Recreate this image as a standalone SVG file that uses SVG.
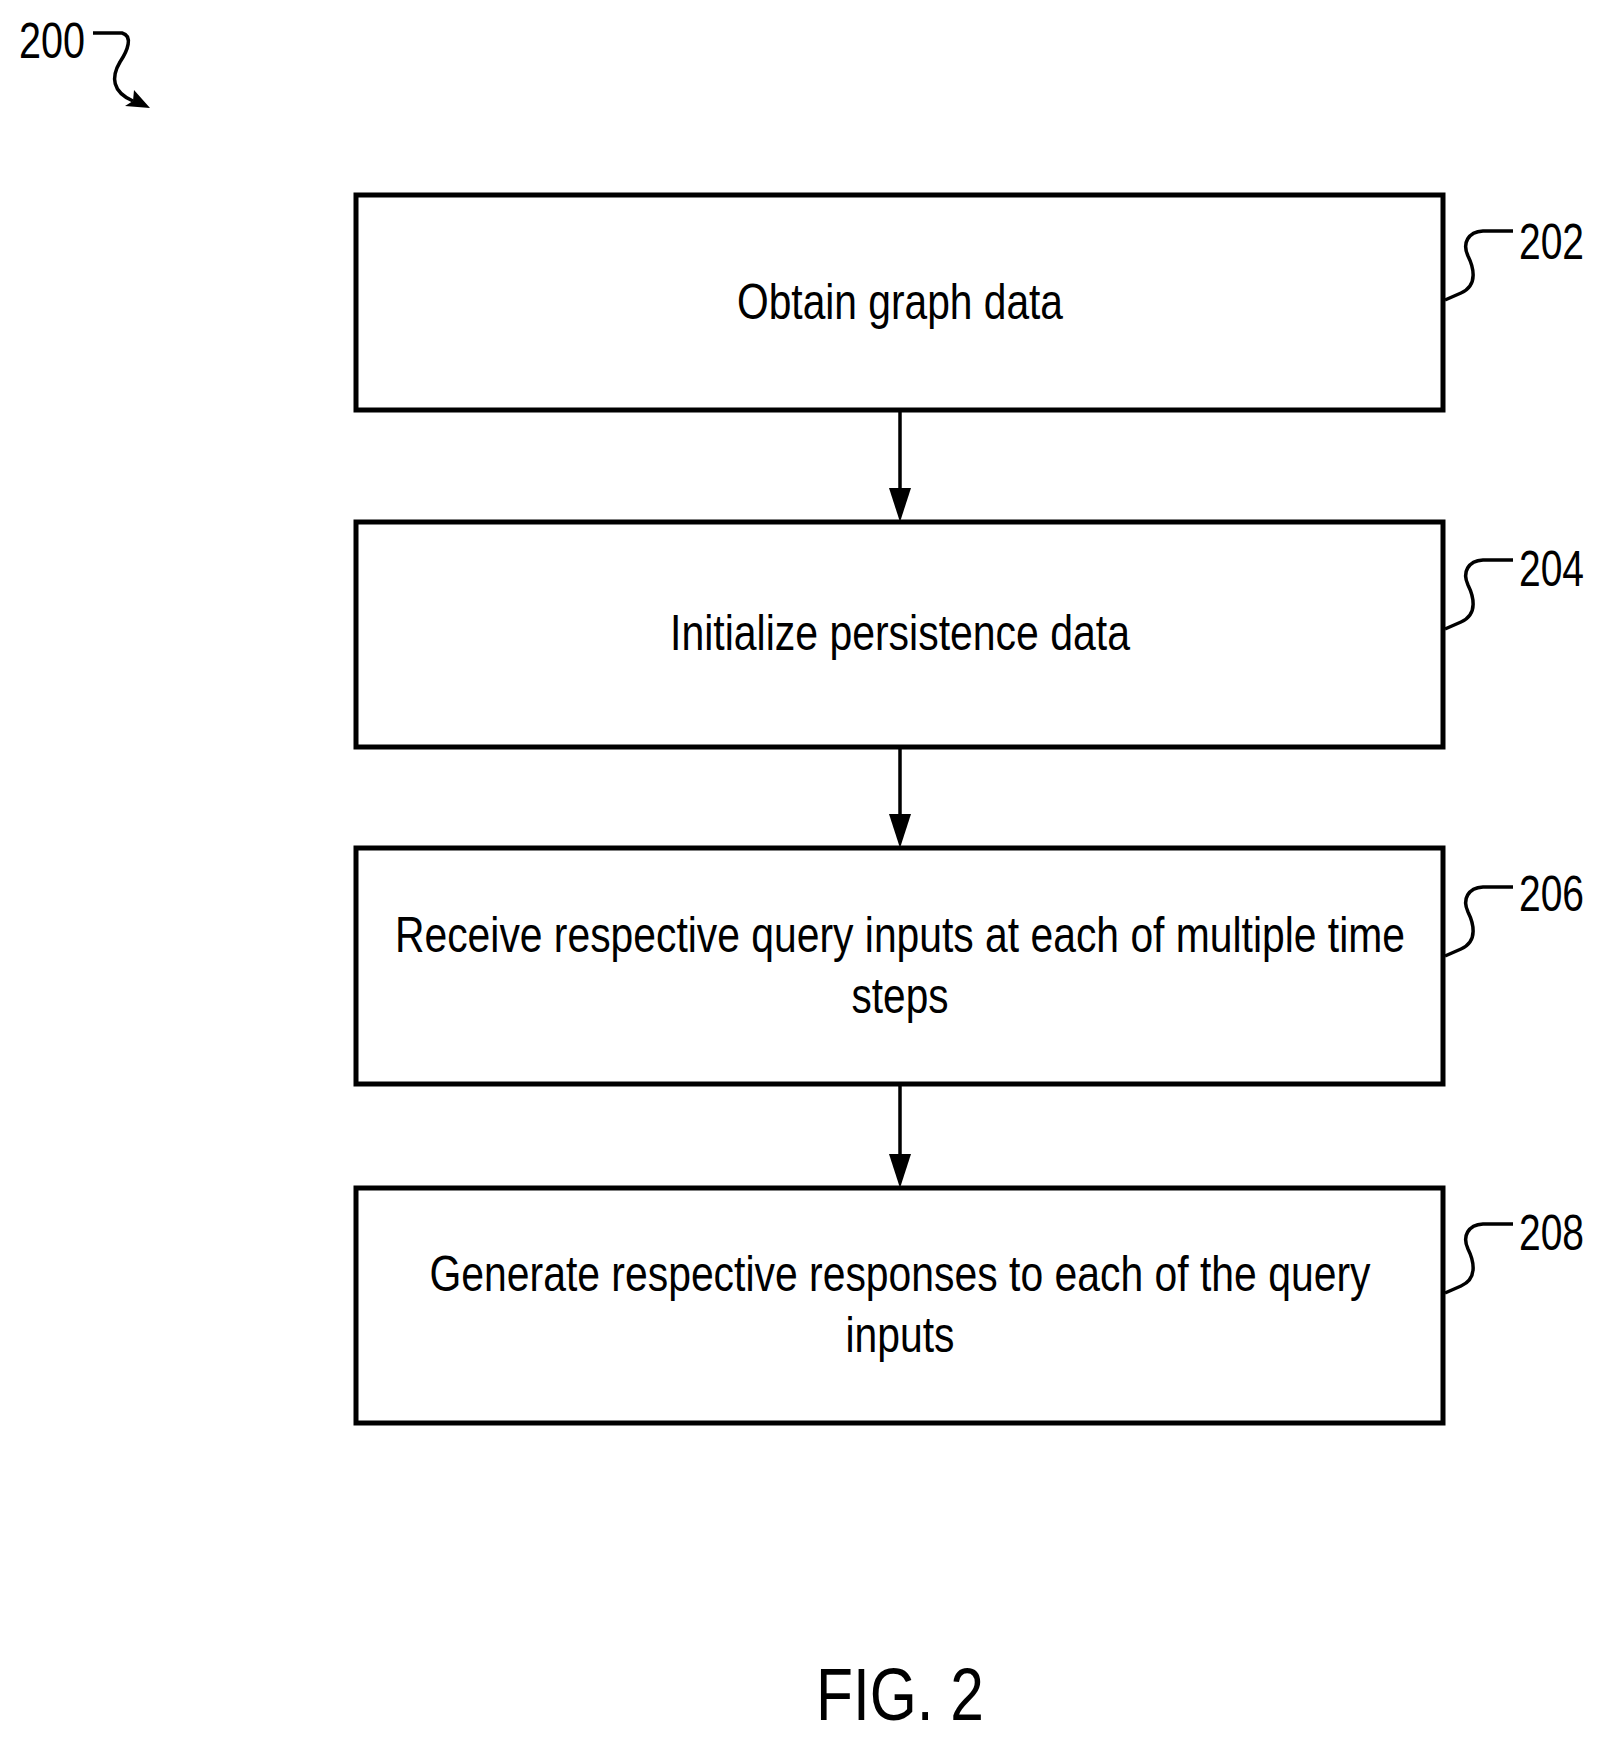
<svg xmlns="http://www.w3.org/2000/svg" width="1606" height="1745" viewBox="0 0 1606 1745">
<style>
.box{fill:#fff;stroke:#000;stroke-width:5}
.t{font-family:"Liberation Sans Narrow","Liberation Sans",Arial,sans-serif;font-size:50px;fill:#000;text-anchor:middle}
.lbl{font-family:"Liberation Sans Narrow","Liberation Sans",Arial,sans-serif;font-size:50px;fill:#000}
.ln{fill:none;stroke:#000;stroke-width:3.5}
.ah{fill:#000}
</style>
<defs>
<path id="sq" d="M1445,300 L1461,293 C1479,285 1473,266 1468,256 C1462,243 1468,232 1483,231 L1513,231" class="ln"/>
</defs>
<g id="ref200">
<text class="lbl" x="19" y="58" textLength="66" lengthAdjust="spacingAndGlyphs">200</text>
<path class="ln" d="M93,33 L122,33 C133,36 128,50 120,62 C111,77 112,92 133,101"/>
<path d="M150,108 L125,106 L133,101 L134,90 Z" fill="#000"/>
</g>
<g id="connectors">
<line class="ln" x1="900" y1="410" x2="900" y2="495"/>
<path class="ah" d="M889,488 L900,522 L911,488 Z"/>
<line class="ln" x1="900" y1="747" x2="900" y2="820"/>
<path class="ah" d="M889,814 L900,848 L911,814 Z"/>
<line class="ln" x1="900" y1="1084" x2="900" y2="1160"/>
<path class="ah" d="M889,1154 L900,1188 L911,1154 Z"/>
</g>
<g id="n202">
<rect class="box" x="356" y="195" width="1087" height="215"/>
<text class="t" x="900" y="319" textLength="326" lengthAdjust="spacingAndGlyphs">Obtain graph data</text>
<use href="#sq"/>
<text class="lbl" x="1519" y="259" textLength="65" lengthAdjust="spacingAndGlyphs">202</text>
</g>
<g id="n204">
<rect class="box" x="356" y="522" width="1087" height="225"/>
<text class="t" x="900" y="650" textLength="460" lengthAdjust="spacingAndGlyphs">Initialize persistence data</text>
<use href="#sq" transform="translate(0,329)"/>
<text class="lbl" x="1519" y="586" textLength="65" lengthAdjust="spacingAndGlyphs">204</text>
</g>
<g id="n206">
<rect class="box" x="356" y="848" width="1087" height="236"/>
<text class="t" x="900" y="952" textLength="1010" lengthAdjust="spacingAndGlyphs">Receive respective query inputs at each of multiple time</text>
<text class="t" x="900" y="1013" textLength="97" lengthAdjust="spacingAndGlyphs">steps</text>
<use href="#sq" transform="translate(0,656)"/>
<text class="lbl" x="1519" y="911" textLength="65" lengthAdjust="spacingAndGlyphs">206</text>
</g>
<g id="n208">
<rect class="box" x="356" y="1188" width="1087" height="235"/>
<text class="t" x="900" y="1291" textLength="941" lengthAdjust="spacingAndGlyphs">Generate respective responses to each of the query</text>
<text class="t" x="900" y="1352" textLength="109" lengthAdjust="spacingAndGlyphs">inputs</text>
<use href="#sq" transform="translate(0,993)"/>
<text class="lbl" x="1519" y="1250" textLength="65" lengthAdjust="spacingAndGlyphs">208</text>
</g>
<text x="900" y="1720" font-family="Liberation Sans Narrow, Liberation Sans, Arial, sans-serif" font-size="74" text-anchor="middle" textLength="168" lengthAdjust="spacingAndGlyphs">FIG. 2</text>
</svg>
